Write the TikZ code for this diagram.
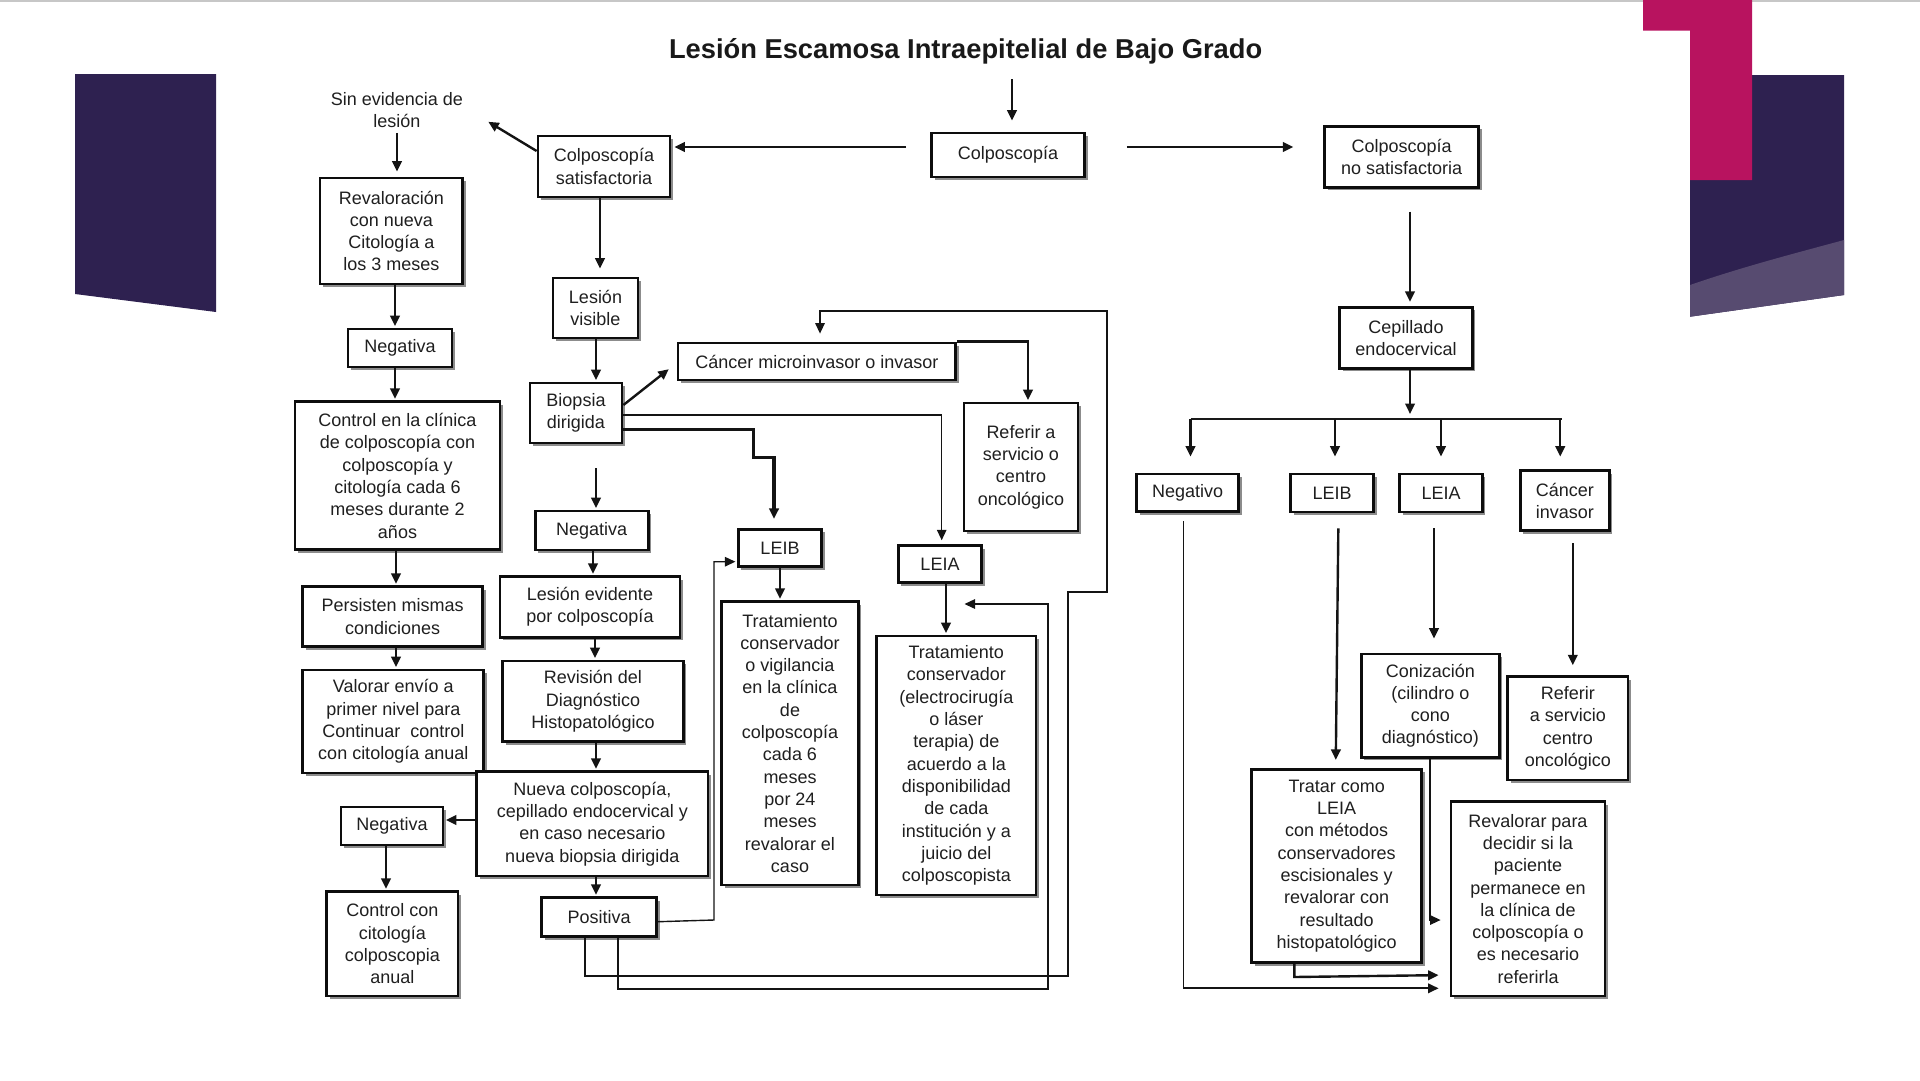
\documentclass[tikz,border=0pt]{standalone}
\usepackage{fontspec}
\setmainfont{Liberation Sans}
\usetikzlibrary{arrows.meta,shadows}
\definecolor{deeppurple}{HTML}{2E2150}
\definecolor{lightpurple}{HTML}{574B70}
\definecolor{magentadeco}{HTML}{B8135F}
\newcommand{\mybox}[6]{\node[box,minimum width=#4pt,minimum height=#5pt] (#1) at (#2,#3) {#6};}
\begin{document}
\begin{tikzpicture}[x=1pt,y=-1pt,
  box/.style={draw=black!95,line width=2.8pt,fill=white,align=center,inner sep=0pt,
    font=\fontsize{18}{22.3}\selectfont,text=black!88,
    drop shadow={shadow xshift=3pt,shadow yshift=-3pt,fill=black!60,opacity=0.75}},
  plain/.style={align=center,inner sep=0pt,font=\fontsize{18}{22.3}\selectfont,text=black!88},
  arr/.style={line width=2.4pt,draw=black!92,-{Triangle[length=10.5pt,width=9.5pt]},shorten >=1.5pt},
  lw/.style={line width=1.4pt}]
\useasboundingbox (0,0) rectangle (1920,1080);
% decorations
\draw[black!22,line width=2pt] (0,1) -- (1920,1);
\fill[deeppurple] (75,74) -- (216,74) -- (216,312) -- (75,294) -- cycle;
\fill[deeppurple] (1690,75) -- (1844,75) -- (1844,295) -- (1690,316.7) -- cycle;
\fill[lightpurple] (1690,285) .. controls (1745,266) and (1800,252) .. (1844,240) -- (1844,295) -- (1690,316.7) -- cycle;
\fill[magentadeco] (1643,0) -- (1752,0) -- (1752,180) -- (1690,180) -- (1690,30.7) -- (1643,30.7) -- cycle;
% title
\node[anchor=base,font=\fontsize{27.3}{30}\selectfont\bfseries,text=black!90] (title) at (965.6,58.3) {Lesión Escamosa Intraepitelial de Bajo Grado};
% boxes
\mybox{colp}{1008}{155}{153}{44}{Colposcopía}
\mybox{csat}{604}{166.5}{132}{61}{Colposcopía\\satisfactoria}
\mybox{cnosat}{1401.7}{156.7}{154}{61}{Colposcopía\\no satisfactoria}
\node[plain] (sinev) at (397,110) {Sin evidencia de\\lesión};
\mybox{reval}{391.3}{231}{142.7}{106}{Revaloración\\con nueva\\Citología a\\los 3 meses}
\mybox{neg1}{400}{348}{104}{38}{Negativa}
\mybox{ctrl}{397.5}{475.8}{205}{148}{Control en la clínica\\de colposcopía con\\colposcopía y\\citología cada 6\\meses durante 2\\años}
\mybox{pers}{392.7}{616.7}{180}{60}{Persisten mismas\\condiciones}
\mybox{valor}{393.3}{721.5}{181}{103}{Valorar envío a\\primer nivel para\\Continuar\ \ control\\con citología anual}
\mybox{lesvis}{595.5}{308}{85}{60}{Lesión\\visible}
\mybox{biop}{576}{413}{92}{60}{Biopsia\\dirigida}
\mybox{cancer}{816.8}{361.5}{277.6}{37}{Cáncer microinvasor o invasor}
\mybox{refer1}{1021}{467}{114}{128}{Referir a\\servicio o\\centro\\oncológico}
\mybox{neg2}{591.7}{530.5}{113}{39}{Negativa}
\mybox{lesev}{590}{607}{180}{60.6}{Lesión evidente\\por colposcopía}
\mybox{revis}{593}{701.3}{180.6}{80.7}{Revisión del\\Diagnóstico\\Histopatológico}
\mybox{nueva}{592.3}{823.8}{231.3}{104.3}{Nueva colposcopía,\\cepillado endocervical y\\en caso necesario\\nueva biopsia dirigida}
\mybox{neg3}{392}{826}{102}{38}{Negativa}
\mybox{ctrlc}{392.3}{943.8}{131.3}{104.3}{Control con\\citología\\colposcopia\\anual}
\mybox{posit}{599.2}{917.2}{115}{39}{Positiva}
\mybox{leib1}{780}{548}{83.4}{37.4}{LEIB}
\mybox{trat1}{790}{743.3}{136.6}{283.3}{Tratamiento\\conservador\\o vigilancia\\en la clínica\\de\\colposcopía\\cada 6\\meses\\por 24\\meses\\revalorar el\\caso}
\mybox{leia1}{940}{564.2}{83.4}{37}{LEIA}
\mybox{trat2}{956.3}{765.5}{159.3}{259}{Tratamiento\\conservador\\(electrocirugía\\o láser\\terapia) de\\acuerdo a la\\disponibilidad\\de cada\\institución y a\\juicio del\\colposcopista}
\mybox{cepil}{1406}{337.8}{132.5}{61}{Cepillado\\endocervical}
\mybox{negv}{1187.7}{492.8}{101.7}{37.7}{Negativo}
\mybox{leib2}{1332}{493}{83}{38}{LEIB}
\mybox{leia2}{1441}{493}{82.4}{38}{LEIA}
\mybox{caninv}{1564.8}{500.7}{89}{60}{Cáncer\\invasor}
\mybox{coniz}{1430.3}{705.7}{138}{103.3}{Conización\\(cilindro o\\cono\\diagnóstico)}
\mybox{refer2}{1567.8}{728.3}{120.3}{103.3}{Referir\\a servicio\\centro\\oncológico}
\mybox{tratar}{1336.7}{866}{170}{193.4}{Tratar como\\LEIA\\con métodos\\conservadores\\escisionales y\\revalorar con\\resultado\\histopatológico}
\mybox{revalor}{1528}{898.8}{154}{194.3}{Revalorar para\\decidir si la\\paciente\\permanece en\\la clínica de\\colposcopía o\\es necesario\\referirla}
% free coordinates
\coordinate (in0) at (1012,79);
\coordinate (sinevtip) at (487,121);
\coordinate (fb2) at (963,604);
\coordinate (br) at (1410,419);
% connectors top
\draw[arr,shorten >=11pt] (in0) -- (in0 |- colp.north);
\draw[arr,shorten <=24pt,shorten >=3pt] (colp.west |- 0,147) -- (csat.east |- 0,147);
\draw[arr,shorten <=41pt,shorten >=30pt] (colp.east |- 0,147) -- (cnosat.west |- 0,147);
\draw[arr] (csat.west |- 0,151) -- (sinevtip);
\draw[arr,shorten <=5pt,shorten >=5pt] (sinev.south) -- (sinev.south |- reval.north);
% left column
\draw[arr] (reval.south -| 395,0) -- (neg1.north -| 395,0);
\draw[arr] (neg1.south -| 395,0) -- (ctrl.north -| 395,0);
\draw[arr] (ctrl.south -| 396,0) -- (pers.north -| 396,0);
\draw[arr] (pers.south -| 396,0) -- (valor.north -| 396,0);
% middle column
\draw[arr,shorten >=8pt] (csat.south -| 600,0) -- (lesvis.north -| 600,0);
\draw[arr] (lesvis.south -| 596,0) -- (biop.north -| 596,0);
\draw[arr,shorten >=10pt] (biop.east |- 0,405) -- (cancer.west |- 0,363);
\draw[arr,shorten <=24pt] (biop.south -| 596,0) -- (neg2.north -| 596,0);
\draw[arr] (neg2.south -| 593,0) -- (lesev.north -| 593,0);
\draw[arr] (lesev.south -| 595,0) -- (revis.north -| 595,0);
\draw[arr] (revis.south -| 596,0) -- (nueva.north -| 596,0);
\draw[arr] (nueva.west |- 0,820) -- (neg3.east |- 0,820);
\draw[arr] (neg3.south -| 386,0) -- (ctrlc.north -| 386,0);
\draw[arr] (nueva.south -| 596,0) -- (posit.north -| 596,0);
\draw[arr,line width=3.2pt,shorten >=9pt] (biop.east |- 0,429.3) -| (753.3,457.3) -| (leib1.north -| 774,0);
\draw[arr,lw,shorten >=4pt] (biop.east |- 0,415) -| (leia1.north -| 941.7,0);
\draw[arr] (cancer.north east) -| (refer1.north -| 1028,0);
\draw[arr] (leib1.south -| 780,0) -- (trat1.north -| 780,0);
\draw[arr] (leia1.south -| 946,0) -- (trat2.north -| 946,0);
\draw[arr,lw] (posit.east |- 0,921.7) -- (714,920) |- (leib1.west |- 0,561.7);
\draw[arr,lw,shorten >=8pt] (posit.south -| 585,0) |- (1068,976) |- (1107,592) |- (820,311) -- (cancer.north -| 820,0);
\draw[arr,lw] (posit.south -| 618,0) |- (1048,989) |- (fb2);
% right column
\draw[arr,shorten <=23pt,shorten >=4pt] (cnosat.south -| 1410,0) -- (cepil.north -| 1410,0);
\draw[arr,shorten >=5pt] (cepil.south -| br) -- (br);
\draw[line width=2pt,black!90] (1190.5,419) -- (1562.3,419);
\draw[arr,shorten >=16pt] (1190.5,419) -- (negv.north -| 1190.5,0);
\draw[arr,shorten >=16pt] (1335,419) -- (leib2.north -| 1335,0);
\draw[arr,shorten >=16pt] (1441,419) -- (leia2.north -| 1441,0);
\draw[arr,shorten >=12.7pt] (1560.2,419) -- (caninv.north -| 1560.2,0);
\draw[arr,line width=1.8pt,shorten <=8pt,shorten >=11pt] (negv.south -| 1183.5,0) |- (revalor.west |- 0,988.3);
\draw[arr,shorten <=15pt,shorten >=8pt] (leib2.south -| 1338.5,0) -- (tratar.north -| 1335.7,0);
\draw[arr,shorten <=15pt,shorten >=14pt] (leia2.south -| 1434,0) -- (coniz.north -| 1434,0);
\draw[arr,shorten <=11pt,shorten >=10pt] (caninv.south -| 1572.8,0) -- (refer2.north -| 1572.8,0);
\draw[arr,lw,shorten >=9pt] (coniz.south -| 1430,0) |- (revalor.west |- 0,920);
\draw[arr,shorten >=11pt] (tratar.south -| 1294.3,0) -- (1294.3,977) -- (revalor.west |- 0,975);
\end{tikzpicture}
\end{document}
